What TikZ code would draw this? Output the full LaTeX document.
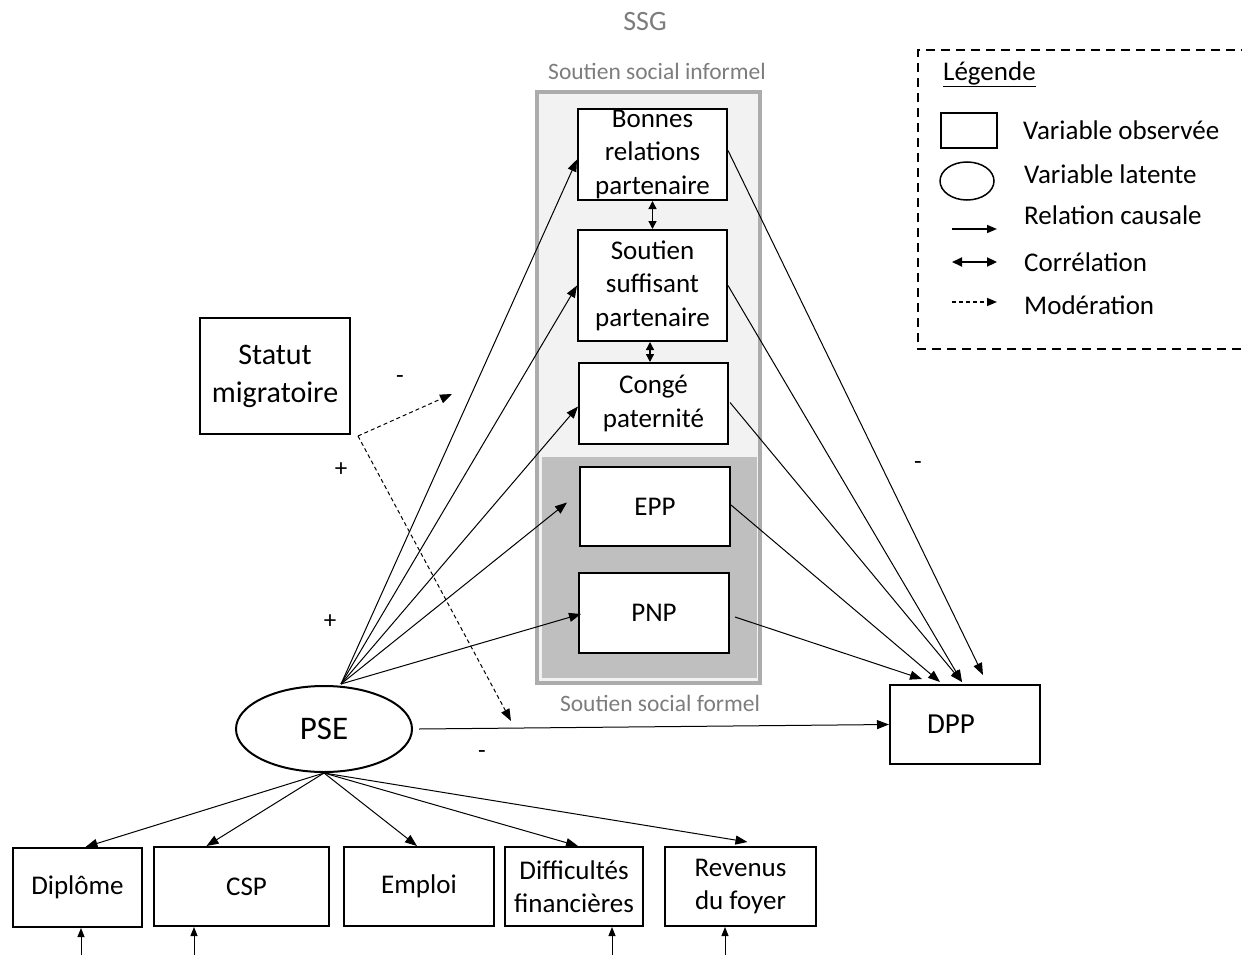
\documentclass[tikz,border=0pt]{standalone}
\usepackage{fontspec}
\setmainfont{Carlito}
\usetikzlibrary{arrows.meta,shapes.geometric}
\definecolor{lblgray}{RGB}{125,125,125}
\definecolor{framegray}{RGB}{172,172,172}
\definecolor{lightfill}{RGB}{242,242,242}
\definecolor{darkfill}{RGB}{191,191,191}
\begin{document}
\begin{tikzpicture}[x=1pt,y=-1pt,
  box/.style={draw=black,line width=2pt,fill=white,rectangle,inner sep=0pt,align=center,font=\fontsize{27}{33.5}\selectfont},
  lat/.style={draw=black,line width=2pt,fill=white,ellipse,inner sep=0pt},
  arr/.style={line width=1pt,-{Triangle[length=12pt,width=9pt]}},
  arrs/.style={line width=1pt,-{Triangle[length=9pt,width=7pt]}},
  dbl/.style={line width=1.3pt,{Triangle[length=8pt,width=8pt]}-{Triangle[length=8pt,width=8pt]}},
  modarr/.style={line width=1pt,dash pattern=on 4pt off 3pt,-{Triangle[length=12pt,width=9pt]}},
  txt/.style={inner sep=0pt,font=\fontsize{27}{33}\selectfont},
  gtxt/.style={inner sep=0pt,text=lblgray,font=\fontsize{23.5}{28}\selectfont},
  sign/.style={inner sep=0pt,font=\fontsize{25}{28}\selectfont}]
\useasboundingbox (0,0) rectangle (1242,955);

% group frame
\draw[framegray,line width=4pt,fill=lightfill] (537,92) rectangle (760,683);
\fill[darkfill] (542,457) rectangle (757,678);

\node[gtxt,font=\fontsize{28}{32}\selectfont] (ssg) at (645,22) {SSG};
\node[gtxt] (informel) at (657,71) {Soutien social informel};
\node[gtxt] (formel) at (660,703) {Soutien social formel};

% boxes
\node[box,minimum width=149pt,minimum height=91pt] (bonnes) at (652.5,154.5) {Bonnes\\relations\\partenaire};
\node[box,minimum width=149pt,minimum height=111pt] (soutien) at (652.5,285.5) {Soutien\\suffisant\\partenaire};
\node[box,minimum width=149pt,minimum height=81pt] (conge) at (653.5,403.5) {Congé\\paternité};
\node[box,minimum width=150pt,minimum height=79pt] (epp) at (655,506.5) {EPP};
\node[box,minimum width=150pt,minimum height=80pt] (pnp) at (654,613) {PNP};
\node[box,minimum width=150pt,minimum height=79pt,font=\fontsize{29}{33}\selectfont] (dpp) at (965,724.5) {DPP\hspace{28pt}};
\node[box,minimum width=150pt,minimum height=116pt,font=\fontsize{30}{38}\selectfont] (statut) at (275,376) {Statut\\migratoire};
\node[lat,minimum width=176pt,minimum height=86pt,font=\fontsize{33}{36}\selectfont] (pse) at (324,729) {PSE};

\node[box,minimum width=129pt,minimum height=79pt] (dip) at (77.5,887.5) {Diplôme};
\node[box,minimum width=175pt,minimum height=79pt] (csp) at (241.5,886.5) {\hspace{10pt}CSP};
\node[box,minimum width=150pt,minimum height=79pt] (emploi) at (419,886.5) {\raisebox{4pt}{Emploi}};
\node[box,minimum width=138pt,minimum height=79pt] (diff) at (574,886.5) {Difficultés\\financières};
\node[box,minimum width=151pt,minimum height=79pt] (rev) at (740.5,886.5) {Revenus\\du foyer};

% correlations
\draw[dbl] (bonnes.south) -- (soutien.north);
\draw[dbl] ([xshift=-2.5pt]soutien.south) -- ([xshift=-3.5pt]conge.north);

% PSE to mediators
\coordinate (pt) at (341,684);
\draw[arr] (pt) -- ([yshift=-5pt]bonnes.west);
\draw[arr] (pt) -- (soutien.west);
\draw[arr] (pt) -- ([yshift=-3pt]conge.west);
\draw[arr] (pt) -- ([xshift=-12pt,yshift=4pt]epp.west);
\draw[arr] (pt) -- ([xshift=3pt,yshift=-1pt]pnp.west);

% mediators to DPP
\coordinate (d1) at (922,679);
\coordinate (d2) at (940,682);
\coordinate (d3) at (962,682);
\coordinate (d4) at (983,675);
\draw[arr] ([yshift=4pt]bonnes.east) -- (d4);
\draw[arr] (soutien.east) -- (d3);
\draw[arr] ([xshift=1pt,yshift=1pt]conge.east) -- (d3);
\draw[arr] ([yshift=1.5pt]epp.east) -- (d2);
\draw[arr] ([xshift=5pt,yshift=-4pt]pnp.east) -- (d1);

% PSE to DPP
\draw[arr] ([xshift=6pt]pse.east) -- (dpp.west);

% moderation
\coordinate (m0) at (358,436);
\coordinate (m1) at (452,394);
\coordinate (m2) at (511,721);
\draw[modarr] (m0) -- (m1);
\draw[modarr] (m0) -- (m2);

% PSE indicators
\draw[arr] (pse.south) -- ([xshift=8pt]dip.north);
\draw[arr] (pse.south) -- ([xshift=-35pt]csp.north);
\draw[arr] (pse.south) -- ([xshift=-2pt]emploi.north);
\draw[arr] (pse.south) -- ([xshift=4pt]diff.north);
\draw[arr] (pse.south) -- ([xshift=7pt,yshift=4pt]rev.north);

% error terms
\coordinate (e1) at (81,955);
\coordinate (e2) at (194,955);
\coordinate (e3) at (612,955);
\coordinate (e4) at (725,955);
\draw[arrs] (e1) -- (e1 |- dip.south);
\draw[arrs] (e2) -- (e2 |- csp.south);
\draw[arrs] (e3) -- (e3 |- diff.south);
\draw[arrs] (e4) -- (e4 |- rev.south);

% signs
\node[sign] (s1) at (400,380) {-};
\node[sign] (s2) at (341,470) {+};
\node[sign] (s3) at (330,622) {+};
\node[sign] (s4) at (918,466) {-};
\node[sign] (s5) at (482,755) {-};

% legend
\draw[line width=1.8pt,dash pattern=on 9pt off 6pt] (1250,50) -- (918,50) -- (918,349) -- (1250,349);
\node[txt,anchor=west] (lgtitle) at (943,74) {\underline{Légende}};
\node[draw=black,line width=2pt,inner sep=0pt,minimum width=56pt,minimum height=35pt] (lgbox) at (969,130.5) {};
\node[draw=black,line width=1.5pt,ellipse,inner sep=0pt,minimum width=54pt,minimum height=38pt] (lgell) at (967,181) {};
\coordinate (la1) at (952,229);
\coordinate (la2) at (997,229);
\coordinate (lb1) at (952,262);
\coordinate (lb2) at (997,262);
\coordinate (lc1) at (952,302);
\coordinate (lc2) at (997,302);
\draw[line width=1.5pt,-{Triangle[length=10pt,width=8pt]}] (la1) -- (la2);
\draw[line width=2.2pt,{Triangle[length=10pt,width=9pt]}-{Triangle[length=10pt,width=9pt]}] (lb1) -- (lb2);
\draw[line width=1.5pt,dash pattern=on 4pt off 3pt,-{Triangle[length=10pt,width=8pt]}] (lc1) -- (lc2);
\node[txt,anchor=west] (lt1) at (1023,130) {Variable observée};
\node[txt,anchor=west] (lt2) at (1024,174) {Variable latente};
\node[txt,anchor=west] (lt3) at (1024,215) {Relation causale};
\node[txt,anchor=west] (lt4) at (1024,262) {Corrélation};
\node[txt,anchor=west] (lt5) at (1024,305) {Modération};
\end{tikzpicture}
\end{document}
